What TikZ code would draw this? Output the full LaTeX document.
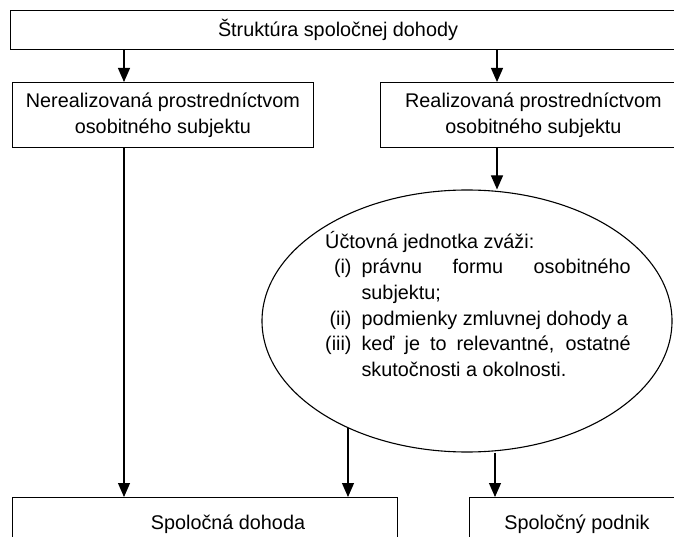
\documentclass[tikz,border=0pt]{standalone}
\usepackage{fontspec}
\setmainfont{Liberation Sans}
\usepackage{array}
\usetikzlibrary{arrows.meta,shapes.geometric}
\tikzset{
  boxnode/.style={draw=black, line width=0.8pt, rectangle, inner sep=0pt, anchor=north west, align=center},
  arr/.style={draw=black, line width=1.1pt, -{Triangle[length=14pt,width=12pt]}},
  plainline/.style={draw=black, line width=1.1pt},
  txt/.style={inner sep=0pt, anchor=base}
}
\begin{document}
\begin{tikzpicture}[x=1pt,y=-1pt,font=\fontsize{19.8}{26}\selectfont]
\useasboundingbox (0,0) rectangle (674,537);
\clip (0,0) rectangle (674,537);

\node[boxnode, minimum width=680pt, minimum height=39pt] (top) at (10,10) {};
\node[txt] (toptext) at (338,37) {Štruktúra spoločnej dohody};

\node[boxnode, minimum width=301pt, minimum height=65pt] (box1) at (12,82)
  {Nerealizovaná prostredníctvom\\osobitného subjektu};
\node[boxnode, minimum width=306pt, minimum height=65pt] (box2) at (380,82)
  {Realizovaná prostredníctvom\\osobitného subjektu};

\node[draw=black, line width=1.1pt, ellipse, minimum width=410pt, minimum height=262pt, inner sep=0pt] (ell) at (467,321) {};
\node[inner sep=0pt, anchor=base west] (elltext) at (325,248) {%
  \begin{minipage}[t]{310pt}\fontsize{19.8}{25.7}\selectfont\hyphenpenalty=10000
  Účtovná jednotka zváži:\par
  \begin{tabular}[t]{@{}r@{\hspace{10pt}}p{269pt}@{}}
  (i) & právnu formu osobitného\linebreak subjektu;\\
  (ii) & podmienky zmluvnej dohody a\\
  (iii) & keď je to relevantné, ostatné\linebreak skutočnosti a okolnosti.
  \end{tabular}
  \end{minipage}};

\node[boxnode, minimum width=385pt, minimum height=60pt] (bl) at (12,497) {};
\node[txt] (bltext) at (228,529) {Spoločná dohoda};
\node[boxnode, minimum width=216pt, minimum height=60pt] (br) at (469,497) {};
\node[txt] (brtext) at (577,529) {Spoločný podnik};

\coordinate (xL) at (124,0);
\coordinate (xR) at (497,0);
\coordinate (xB) at (495,0);
\coordinate (e1) at (348,428);

\draw[arr] (top.south -| xL) -- (box1.north -| xL);
\draw[arr] (top.south -| xR) -- (box2.north -| xR);
\draw[arr] (box2.south -| xR) -- (xR |- ell.north);
\draw[arr] (box1.south -| xL) -- (bl.north -| xL);
\draw[arr] (e1) -- (bl.north -| e1);
\draw[arr] (xB |- ell.south) -- (br.north -| xB);
\end{tikzpicture}
\end{document}
